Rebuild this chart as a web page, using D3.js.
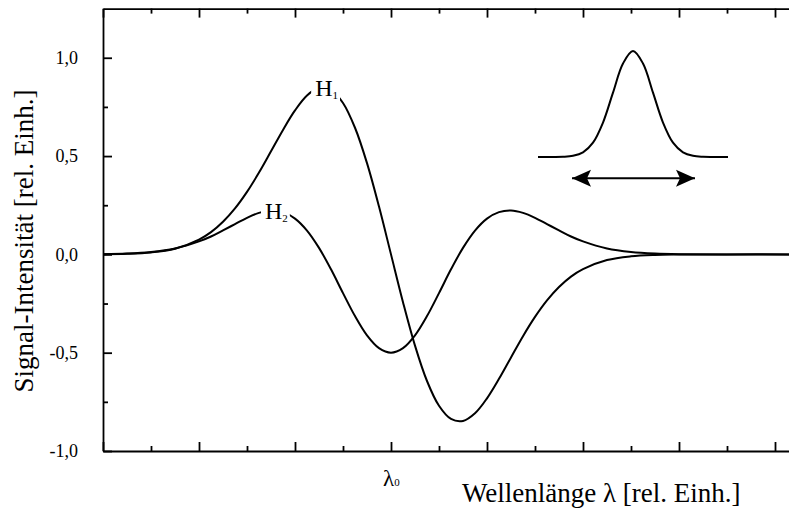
<!DOCTYPE html>
<html>
<head>
<meta charset="utf-8">
<script src="https://cdn.jsdelivr.net/npm/d3@7"></script>
<style>
  body { margin: 0; background: #fff; }
  svg { display: block; font-family: "Liberation Serif", "Times New Roman", serif; }
  .axis path, .axis line { stroke: #000; stroke-width: 1.8; }
  .axis text { font-size: 18px; fill: #000; font-family: "Liberation Serif", serif; }
</style>
</head>
<body>
<div id="chart"></div>
<script>
var svgWidth = 789;
var svgHeight = 508;

// wavelength positions (relative units, lambda0 = 0)
var lambda = [-6, -5.5, -5, -4.5, -4, -3.75, -3.5, -3.25, -3, -2.75, -2.5, -2.25, -2, -1.75, -1.5, -1.25, -1, -0.75, -0.5, -0.25,
  0, 0.25, 0.5, 0.75, 1, 1.25, 1.5, 1.75, 2, 2.25, 2.5, 2.75, 3, 3.25, 3.5, 3.75, 4, 4.5, 5, 5.5, 6, 7, 8.4];

// H1 (first derivative)
var h1 = [0.001, 0.003, 0.010, 0.029, 0.075, 0.113, 0.166, 0.234, 0.318, 0.416, 0.524, 0.633, 0.732, 0.808, 0.847, 0.837, 0.770, 0.644, 0.464, 0.243,
  0, -0.243, -0.464, -0.644, -0.770, -0.837, -0.847, -0.808, -0.732, -0.633, -0.524, -0.416, -0.318, -0.234, -0.166, -0.113, -0.075, -0.029, -0.010, -0.003, -0.001, 0, 0];

// H2 (second derivative)
var h2 = [0.001, 0.004, 0.012, 0.030, 0.066, 0.091, 0.122, 0.154, 0.186, 0.211, 0.223, 0.215, 0.182, 0.121, 0.033, -0.076, -0.197, -0.314, -0.412, -0.477,
  -0.5, -0.477, -0.412, -0.314, -0.197, -0.076, 0.033, 0.121, 0.182, 0.215, 0.223, 0.211, 0.186, 0.154, 0.122, 0.091, 0.066, 0.030, 0.012, 0.004, 0.001, 0, 0];

var yMajorTicks = [-1, -0.5, 0, 0.5, 1];
var yMinorTicks = [-0.75, -0.25, 0.25, 0.75];
var xMajorTicks = [-6, -4, -2, 0, 2, 4, 6, 8];
var xMinorTicks = [-5, -3, -1, 1, 3, 5, 7];

// curve labels: [name, subscript, lambda, value]
var curveLabels = [["H", "1", -1.58, 0.806], ["H", "2", -2.625, 0.182]];

// inset: line profile
var insetT = [-4.75, -4, -3.5, -3, -2.5, -2, -1.5, -1, -0.5, 0, 0.5, 1, 1.5, 2, 2.5, 3, 3.5, 4, 4.75];
var insetG = [0, 0.0003, 0.002, 0.011, 0.044, 0.135, 0.325, 0.607, 0.882, 1, 0.882, 0.607, 0.325, 0.135, 0.044, 0.011, 0.002, 0.0003, 0];
var insetArrow = [-3.05, 3.1];

var margin = { top: 8.6, right: 0, bottom: 57, left: 103 };
var height = svgHeight - margin.top - margin.bottom;

var svg = d3.select("#chart")
  .append("svg")
  .attr("width", svgWidth)
  .attr("height", svgHeight);

var chartGroup = svg.append("g")
  .attr("transform", `translate(${margin.left}, ${margin.top})`);

var xScale = d3.scaleLinear()
  .domain([-6, 8.4])
  .range([0, 14.4 * 48]);

var yScale = d3.scaleLinear()
  .domain([-1, 1.25])
  .range([height, 0]);

var fmt = d => d3.format(".1f")(d).replace(".", ",").replace("\u2212", "-");

// bottom axis
chartGroup.append("g").attr("class", "axis")
  .attr("transform", `translate(0, ${height})`)
  .call(d3.axisBottom(xScale).tickValues(xMajorTicks).tickSizeInner(-9).tickSizeOuter(0).tickFormat(""));
chartGroup.append("g").attr("class", "axis")
  .attr("transform", `translate(0, ${height})`)
  .call(d3.axisBottom(xScale).tickValues(xMinorTicks).tickSizeInner(-5).tickSizeOuter(0).tickFormat(""))
  .select(".domain").remove();

// top axis
chartGroup.append("g").attr("class", "axis")
  .call(d3.axisTop(xScale).tickValues(xMajorTicks).tickSizeInner(-9).tickSizeOuter(0).tickFormat(""));
chartGroup.append("g").attr("class", "axis")
  .call(d3.axisTop(xScale).tickValues(xMinorTicks).tickSizeInner(-5).tickSizeOuter(0).tickFormat(""))
  .select(".domain").remove();

// left axis
chartGroup.append("g").attr("class", "axis")
  .call(d3.axisLeft(yScale).tickValues(yMajorTicks).tickSizeInner(-9).tickSizeOuter(0).tickPadding(25).tickFormat(fmt));
chartGroup.append("g").attr("class", "axis")
  .call(d3.axisLeft(yScale).tickValues(yMinorTicks).tickSizeInner(-5).tickSizeOuter(0).tickFormat(""))
  .select(".domain").remove();

// curves
var line = d3.line().curve(d3.curveCatmullRom.alpha(0.5));
[h1, h2].forEach(function(series) {
  chartGroup.append("path")
    .datum(lambda.map((l, i) => [xScale(l), yScale(series[i])]))
    .attr("d", line)
    .attr("fill", "none")
    .attr("stroke", "#000")
    .attr("stroke-width", 2);
});

// curve labels with gap in the line
curveLabels.forEach(function(lab) {
  var g = chartGroup.append("g");
  var bg = g.append("rect").attr("fill", "#fff");
  var t = g.append("text")
    .attr("x", xScale(lab[2]))
    .attr("y", yScale(lab[3]))
    .attr("font-size", "24px")
    .text(lab[0]);
  t.append("tspan").attr("font-size", "11px").attr("dy", 3).text(lab[1]);
  var bb = t.node().getBBox();
  bg.attr("x", bb.x - 4).attr("y", bb.y - 2).attr("width", bb.width + 6).attr("height", bb.height + 4);
});

// lambda0 label
var l0 = chartGroup.append("text")
  .attr("x", xScale(0) - 8)
  .attr("y", height + 35)
  .attr("font-size", "23px")
  .text("\u03bb");
l0.append("tspan").attr("font-size", "11px").attr("dy", 0).text("0");

// axis titles
chartGroup.append("text")
  .attr("x", 462 - margin.left)
  .attr("y", height + 51)
  .attr("font-size", "27px")
  .text("Wellenlänge \u03bb [rel. Einh.]");

chartGroup.append("text")
  .attr("transform", `translate(${33 - margin.left}, ${241 - margin.top}) rotate(-90)`)
  .attr("text-anchor", "middle")
  .attr("font-size", "27px")
  .text("Signal-Intensität [rel. Einh.]");

// inset
var insetX = d3.scaleLinear().domain([-4.75, 4.75]).range([538 - margin.left, 728 - margin.left]);
var insetY = d3.scaleLinear().domain([0, 1]).range([157 - margin.top, 51 - margin.top]);

chartGroup.append("path")
  .datum(insetT.map((t, i) => [insetX(t), insetY(insetG[i])]))
  .attr("d", d3.line().curve(d3.curveCatmullRom.alpha(0.5)))
  .attr("fill", "none")
  .attr("stroke", "#000")
  .attr("stroke-width", 2);

var defs = svg.append("defs");
defs.append("marker")
  .attr("id", "head")
  .attr("markerUnits", "userSpaceOnUse")
  .attr("viewBox", "-20 -9 21 18")
  .attr("refX", 0).attr("refY", 0)
  .attr("markerWidth", 21).attr("markerHeight", 18)
  .attr("orient", "auto-start-reverse")
  .append("path")
  .attr("d", "M0,0 L-19,-8.5 L-15,0 L-19,8.5 Z")
  .attr("fill", "#000");

chartGroup.append("line")
  .attr("x1", insetX(insetArrow[0]))
  .attr("x2", insetX(insetArrow[1]))
  .attr("y1", insetY(-0.2))
  .attr("y2", insetY(-0.2))
  .attr("stroke", "#000")
  .attr("stroke-width", 2)
  .attr("marker-start", "url(#head)")
  .attr("marker-end", "url(#head)");
</script>
</body>
</html>
